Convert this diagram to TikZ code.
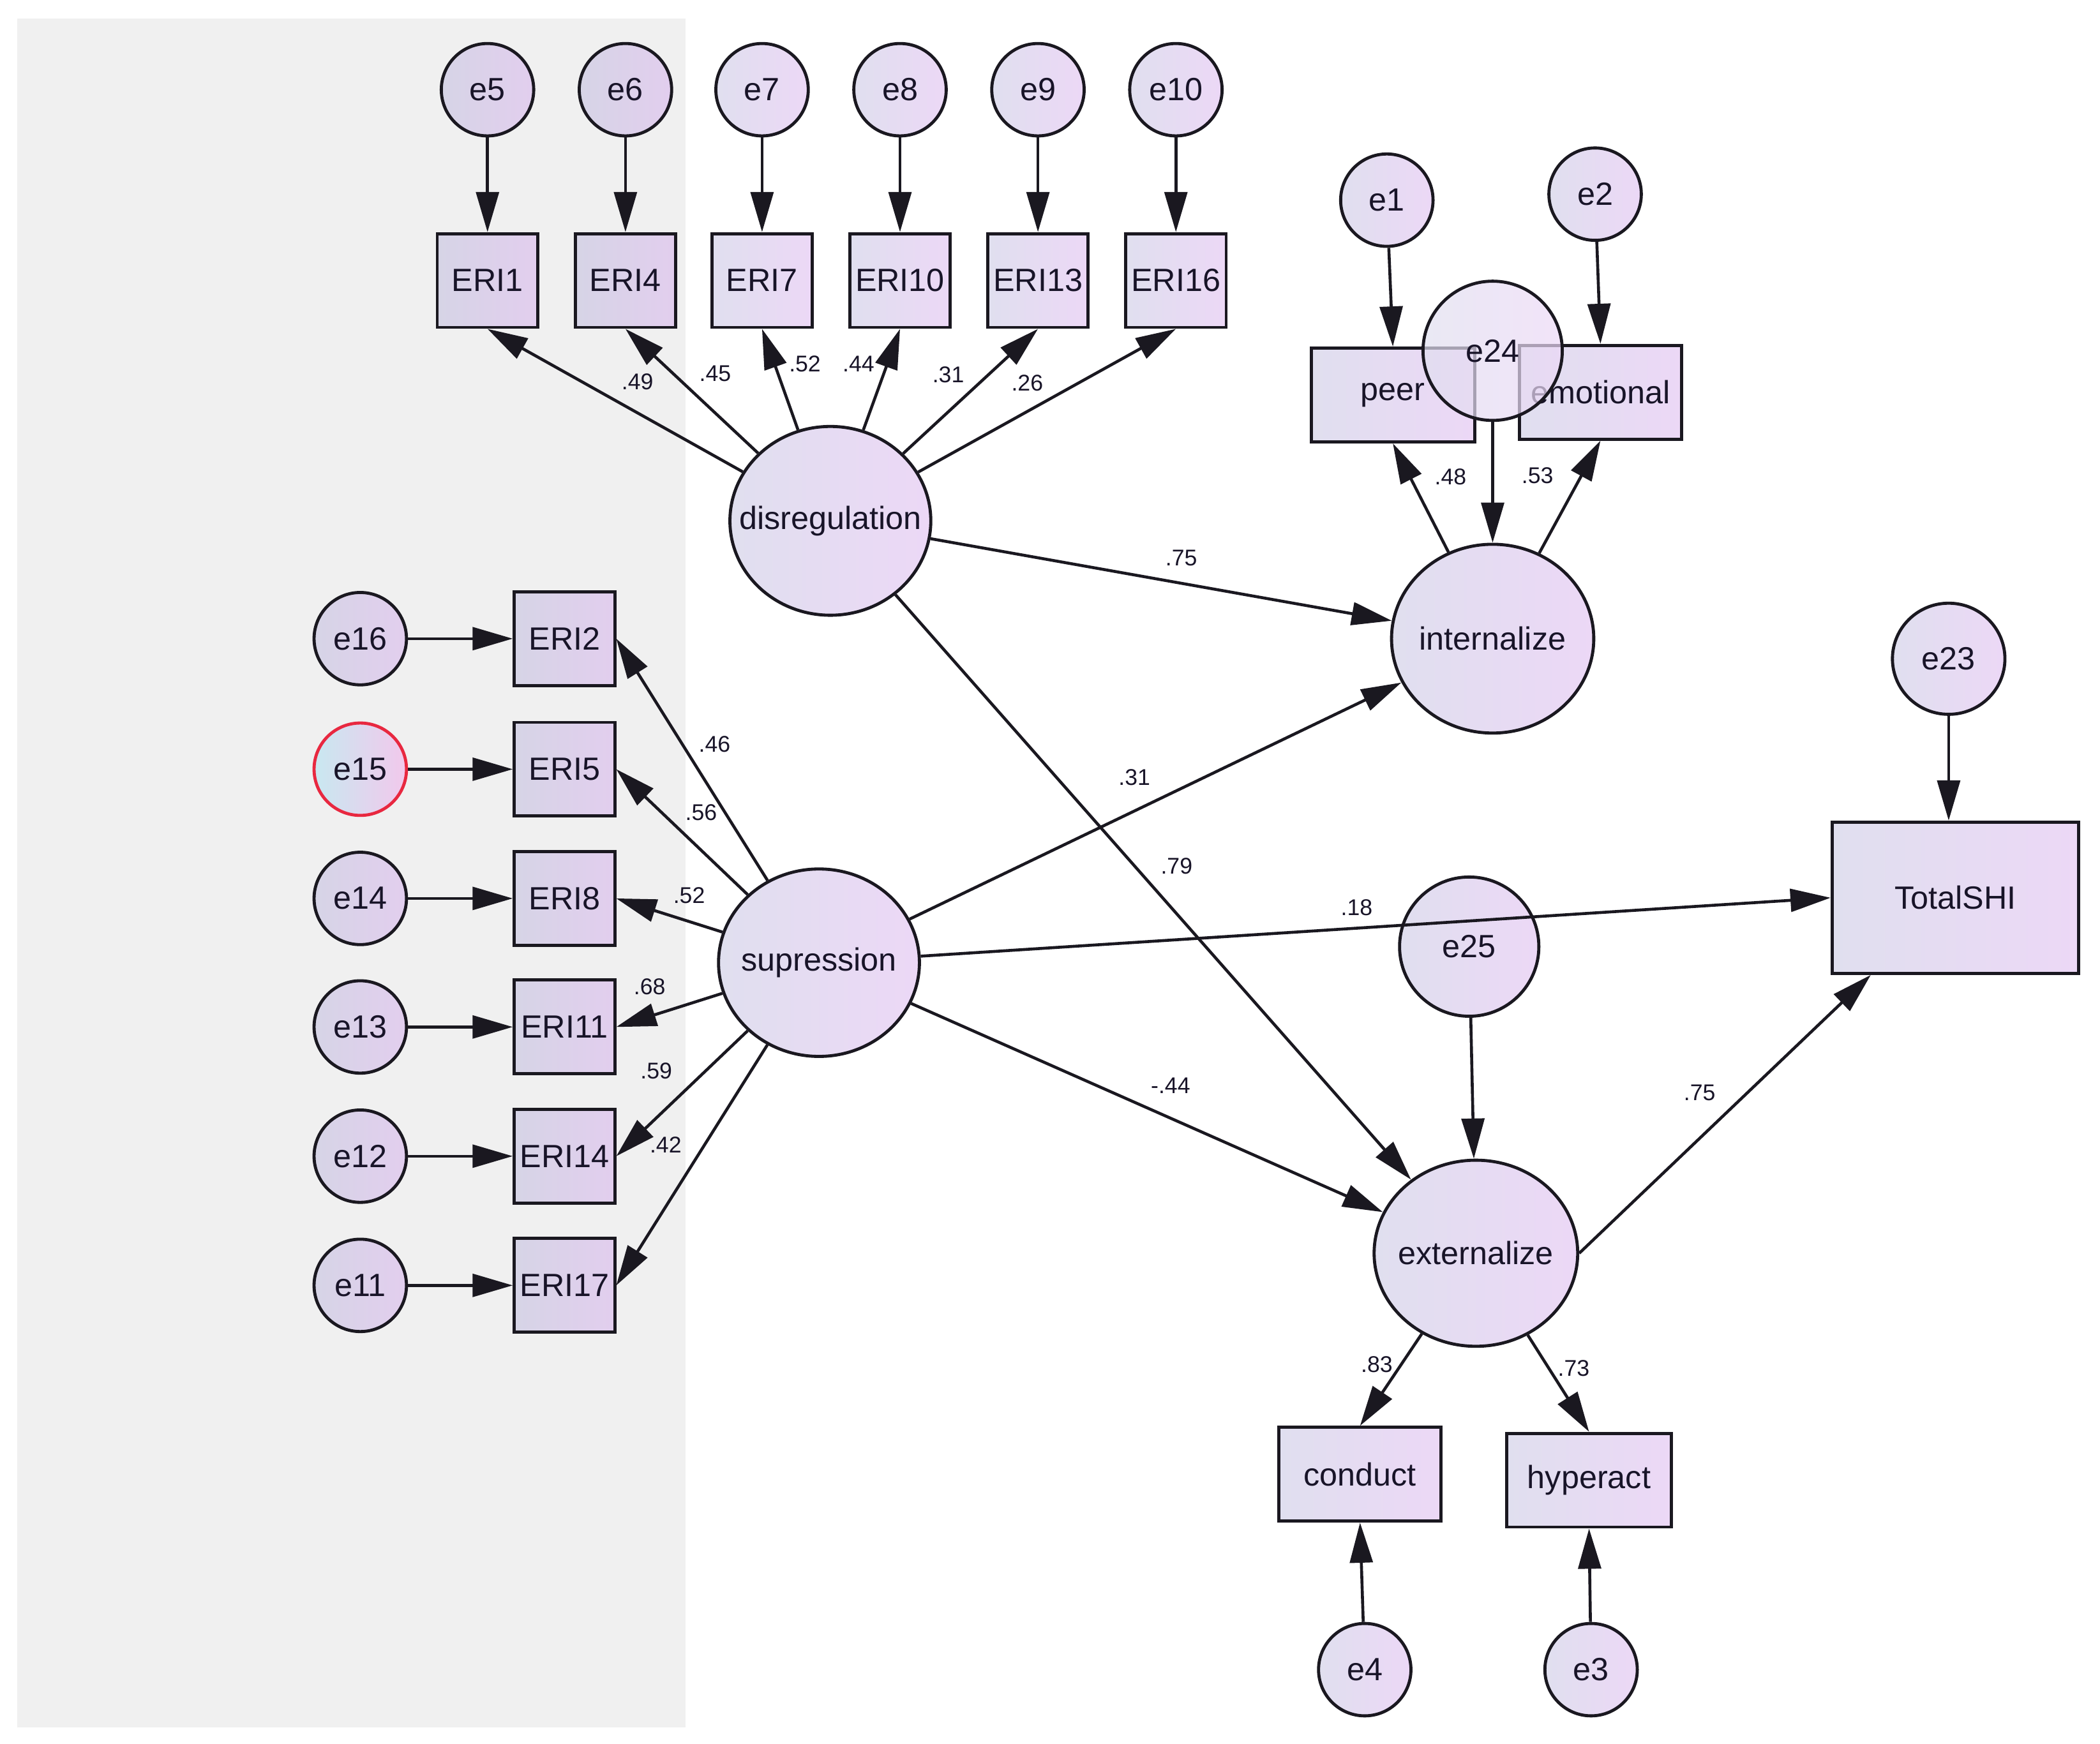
\documentclass[tikz,border=0pt]{standalone}
\usepackage{fontspec}
\setmainfont{Liberation Sans}
\usetikzlibrary{shapes.geometric,arrows.meta}
\definecolor{panel}{RGB}{240,240,240}
\definecolor{fillA}{RGB}{224,223,239}
\definecolor{fillB}{RGB}{236,216,246}
\definecolor{fillC}{RGB}{214,212,230}
\definecolor{fillD}{RGB}{226,206,238}
\definecolor{txt}{RGB}{24,20,40}
\definecolor{edge}{RGB}{26,24,32}
\definecolor{selred}{RGB}{232,40,64}
\definecolor{selA}{RGB}{200,232,240}
\definecolor{selB}{RGB}{242,200,236}
\newcommand\zw[1]{\makebox[0pt]{#1}}
\begin{document}
\begin{tikzpicture}[x=1pt,y=-1pt,
  base/.style={draw=edge, line width=2.3pt, text=txt, inner sep=0pt,
    font=\fontsize{24}{28}\selectfont, left color=fillA, right color=fillB},
  ongray/.style={left color=fillC, right color=fillD},
  err/.style={base, ellipse, minimum width=69pt, minimum height=69pt},
  bigerr/.style={base, ellipse, minimum width=104pt, minimum height=104pt},
  lat/.style={base, ellipse, minimum width=150pt, minimum height=140pt},
  obs/.style={base, rectangle, minimum width=75pt, minimum height=70pt},
  wobs/.style={base, rectangle, minimum width=122pt, minimum height=70pt},
  arr/.style={draw=edge, line width=2.2pt, -{Triangle[length=30pt,width=17pt]}},
  lbl/.style={font=\fontsize{17}{20}\selectfont, text=txt, inner sep=0pt}
]
\useasboundingbox (0,0) rectangle (1568,1302.5);
\fill[panel] (13,14) rectangle (512,1290);

% top indicators of disregulation
\node[err, ongray] (e5)  at (364,67) {e5};
\node[err, ongray] (e6)  at (467,67) {e6};
\node[err] (e7)  at (569,67) {e7};
\node[err] (e8)  at (672,67) {e8};
\node[err] (e9)  at (775,67) {e9};
\node[err] (e10) at (878,67) {e10};
\node[obs, ongray] (eri1)  at (364,209.5) {ERI1};
\node[obs, ongray] (eri4)  at (467,209.5) {ERI4};
\node[obs] (eri7)  at (569,209.5) {ERI7};
\node[obs] (eri10) at (672,209.5) {ERI10};
\node[obs] (eri13) at (775,209.5) {ERI13};
\node[obs] (eri16) at (878,209.5) {ERI16};

% left indicators of supression
\node[err, ongray] (e16) at (269,477) {e16};
\node[err, draw=selred, left color=selA, right color=selB] (e15) at (269,574.5) {e15};
\node[err, ongray] (e14) at (269,671) {e14};
\node[err, ongray] (e13) at (269,767) {e13};
\node[err, ongray] (e12) at (269,863.5) {e12};
\node[err, ongray] (e11) at (269,960) {e11};
\node[obs, ongray] (eri2)  at (421.5,477) {ERI2};
\node[obs, ongray] (eri5)  at (421.5,574.5) {ERI5};
\node[obs, ongray] (eri8)  at (421.5,671) {ERI8};
\node[obs, ongray] (eri11) at (421.5,767) {ERI11};
\node[obs, ongray] (eri14) at (421.5,863.5) {ERI14};
\node[obs, ongray] (eri17) at (421.5,960) {ERI17};

% latent variables
\node[lat, minimum height=141pt] (dis) at (620,389) {\zw{disregulation}};
\node[lat] (sup) at (611.5,719) {\zw{supression}};
\node[lat, minimum width=151pt, minimum height=141pt] (int) at (1114.5,477) {\zw{internalize}};
\node[lat, minimum width=152pt, minimum height=139pt] (ext) at (1102,936) {\zw{externalize}};

% internalize block
\node[err] (e1) at (1035.5,149.5) {e1};
\node[err] (e2) at (1191,145) {e2};
\node[wobs] (peer) at (1040,295) {peer};
\node[wobs, minimum width=121pt] (emo) at (1195,293) {emotional};
\node[bigerr, fill opacity=0.7, text opacity=1] (e24) at (1114.5,262) {e24};

% externalize block
\node[bigerr] (e25) at (1097,707) {e25};
\node[wobs, minimum width=121pt] (cond) at (1015.5,1101) {conduct};
\node[wobs, minimum width=123pt] (hyp) at (1186.5,1105.5) {hyperact};
\node[err] (e4) at (1019,1247) {e4};
\node[err] (e3) at (1188,1247) {e3};

% total
\node[base, ellipse, minimum width=84pt, minimum height=83pt] (e23) at (1455,492) {e23};
\node[base, rectangle, minimum width=184pt, minimum height=113pt] (tot) at (1460,670.5) {TotalSHI};

% error arrows
\foreach \e/\o in {e5/eri1,e6/eri4,e7/eri7,e8/eri10,e9/eri13,e10/eri16,
                   e16/eri2,e15/eri5,e14/eri8,e13/eri11,e12/eri14,e11/eri17}
  \draw[arr] (\e) -- (\o);
\draw[arr] (e1) -- (peer.north);
\draw[arr] (e2) -- (emo.north);
\draw[arr] (e24) -- (int);
\draw[arr] (e25) -- (ext);
\draw[arr] (e23) -- (e23 |- tot.north);
\draw[arr] (e4) -- (cond.south);
\draw[arr] (e3) -- (hyp.south);

% loadings
\foreach \o in {eri1,eri4,eri7,eri10,eri13,eri16}
  \draw[arr] (dis) -- (\o.south);
\foreach \o in {eri2,eri5,eri8,eri11,eri14,eri17}
  \draw[arr] (sup) -- (\o.east);
\draw[arr] (int) -- (peer.south);
\draw[arr] (int) -- (emo.south);
\draw[arr] (ext) -- (cond.north);
\draw[arr] (ext) -- (hyp.north);

% structural paths
\draw[arr] (dis) -- (int);
\draw[arr] (sup) -- (int);
\draw[arr] (dis) -- (ext);
\draw[arr] (sup) -- (tot.west);
\draw[arr] (sup) -- (ext);
\draw[arr] (ext.east) -- ([xshift=30pt]tot.south west);

% labels
\node[lbl] (l1) at (476,285) {.49};
\node[lbl] (l2) at (534,279) {.45};
\node[lbl] (l3) at (601,272) {.52};
\node[lbl] (l4) at (641,272) {.44};
\node[lbl] (l5) at (708,280) {.31};
\node[lbl] (l6) at (767,286) {.26};
\node[lbl] (l7) at (533.5,556) {.46};
\node[lbl] (l8) at (523.5,607) {.56};
\node[lbl] (l9) at (514.5,669) {.52};
\node[lbl] (l10) at (485,737) {.68};
\node[lbl] (l11) at (490,800) {.59};
\node[lbl] (l12) at (497,855) {.42};
\node[lbl] (l13) at (1083,356) {.48};
\node[lbl] (l14) at (1148,355) {.53};
\node[lbl] (l15) at (882,416.5) {.75};
\node[lbl] (l16) at (847,580.5) {.31};
\node[lbl] (l17) at (878.5,647) {.79};
\node[lbl] (l18) at (1013,678) {.18};
\node[lbl] (l19) at (874,811) {-.44};
\node[lbl] (l20) at (1269,816) {.75};
\node[lbl] (l21) at (1028,1019) {.83};
\node[lbl] (l22) at (1175,1022) {.73};
\end{tikzpicture}
\end{document}
